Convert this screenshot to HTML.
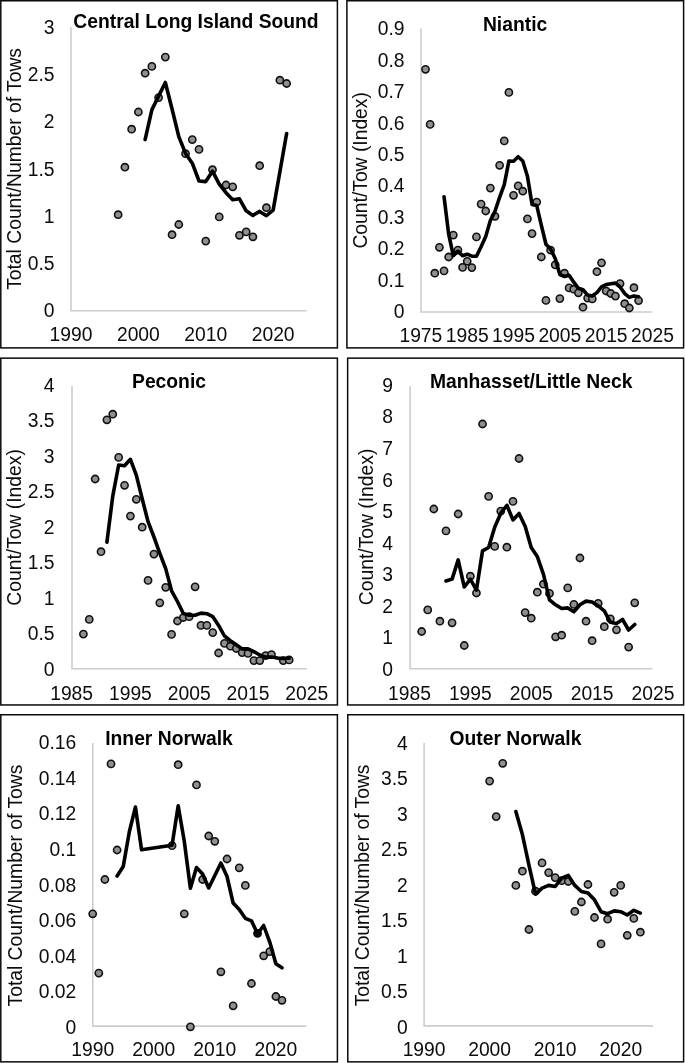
<!DOCTYPE html>
<html lang="en"><head><meta charset="utf-8"><title>Abundance indices by site</title>
<style>
html,body{margin:0;padding:0;background:#fff}
body{width:685px;height:1063px;overflow:hidden}
svg{display:block;will-change:transform}
text{font-family:"Liberation Sans",sans-serif;fill:#0c0c0c}
.t{font-size:19.3px}
.b{font-weight:bold;fill:#000}
.bx{fill:#fff;stroke:#0a0a0a;stroke-width:1.5}
.ax{stroke:#cdcdcd;stroke-width:1.6;fill:none}
.d{fill:#8f8f8f;stroke:#101010;stroke-width:1.6}
.dd{fill:#111;stroke:#000;stroke-width:1.6}
.ln{fill:none;stroke:#000;stroke-width:3.6;stroke-linejoin:round;stroke-linecap:round}
</style></head><body>
<svg width="685" height="1063" viewBox="0 0 685 1063">
<rect x="0" y="0" width="685" height="1063" fill="#fff"/>
<g id="p1">
<rect class="bx" x="0.8" y="0.75" width="336.6" height="347.15"/>
<path class="ax" d="M71 27.1 V310.75 H306.5"/>
<text class="t" x="54.6" y="317.35" text-anchor="end">0</text>
<text class="t" x="54.6" y="270.08" text-anchor="end">0.5</text>
<text class="t" x="54.6" y="222.82" text-anchor="end">1</text>
<text class="t" x="54.6" y="175.55" text-anchor="end">1.5</text>
<text class="t" x="54.6" y="128.28" text-anchor="end">2</text>
<text class="t" x="54.6" y="81.02" text-anchor="end">2.5</text>
<text class="t" x="54.6" y="33.75" text-anchor="end">3</text>
<text class="t" x="70.98" y="340.5" text-anchor="middle">1990</text>
<text class="t" x="138.37" y="340.5" text-anchor="middle">2000</text>
<text class="t" x="205.76" y="340.5" text-anchor="middle">2010</text>
<text class="t" x="273.15" y="340.5" text-anchor="middle">2020</text>
<text class="t" transform="translate(20.9 168.93) rotate(-90)" text-anchor="middle">Total Count/Number of Tows</text>
<text class="t b" x="196" y="28.2" text-anchor="middle">Central Long Island Sound</text>
<circle class="d" cx="118.15" cy="214.7" r="3.6"/>
<circle class="d" cx="124.89" cy="167.2" r="3.6"/>
<circle class="d" cx="131.63" cy="129.2" r="3.6"/>
<circle class="d" cx="138.37" cy="112" r="3.6"/>
<circle class="d" cx="145.11" cy="73.2" r="3.6"/>
<circle class="d" cx="151.85" cy="66.4" r="3.6"/>
<circle class="d" cx="158.59" cy="97.6" r="3.6"/>
<circle class="d" cx="165.33" cy="57.1" r="3.6"/>
<circle class="d" cx="172.06" cy="234.7" r="3.6"/>
<circle class="d" cx="178.8" cy="224.5" r="3.6"/>
<circle class="d" cx="185.54" cy="153.7" r="3.6"/>
<circle class="d" cx="192.28" cy="139.6" r="3.6"/>
<circle class="d" cx="199.02" cy="149.4" r="3.6"/>
<circle class="d" cx="205.76" cy="241.1" r="3.6"/>
<circle class="d" cx="212.5" cy="169.7" r="3.6"/>
<circle class="d" cx="219.24" cy="216.9" r="3.6"/>
<circle class="d" cx="225.98" cy="185" r="3.6"/>
<circle class="d" cx="232.72" cy="186.8" r="3.6"/>
<circle class="d" cx="239.45" cy="235.3" r="3.6"/>
<circle class="d" cx="246.19" cy="231.9" r="3.6"/>
<circle class="d" cx="252.93" cy="236.8" r="3.6"/>
<circle class="d" cx="259.67" cy="165.7" r="3.6"/>
<circle class="d" cx="266.41" cy="207.7" r="3.6"/>
<circle class="d" cx="279.89" cy="80.2" r="3.6"/>
<circle class="d" cx="286.63" cy="83.5" r="3.6"/>
<polyline class="ln" points="145.11,139.6 151.85,109.9 158.59,96.1 165.33,82.5 172.06,109 178.8,136.6 185.54,153.4 192.28,163.2 199.02,181 205.76,181.6 212.5,171.2 219.24,184.1 225.98,192.7 232.72,199.7 239.45,198.8 246.19,210.8 252.93,215.4 259.67,211.4 266.41,215.7 273.15,210.1 279.89,171.8 286.63,133.5"/>
</g>
<g id="p2">
<rect class="bx" x="346.9" y="0.75" width="336.7" height="347.15"/>
<path class="ax" d="M421.05 28.6 V312.05 H652.4"/>
<text class="t" x="404.6" y="318.2" text-anchor="end">0</text>
<text class="t" x="404.6" y="286.76" text-anchor="end">0.1</text>
<text class="t" x="404.6" y="255.32" text-anchor="end">0.2</text>
<text class="t" x="404.6" y="223.88" text-anchor="end">0.3</text>
<text class="t" x="404.6" y="192.44" text-anchor="end">0.4</text>
<text class="t" x="404.6" y="161.01" text-anchor="end">0.5</text>
<text class="t" x="404.6" y="129.57" text-anchor="end">0.6</text>
<text class="t" x="404.6" y="98.13" text-anchor="end">0.7</text>
<text class="t" x="404.6" y="66.69" text-anchor="end">0.8</text>
<text class="t" x="404.6" y="35.25" text-anchor="end">0.9</text>
<text class="t" x="420.88" y="342" text-anchor="middle">1975</text>
<text class="t" x="467.2" y="342" text-anchor="middle">1985</text>
<text class="t" x="513.52" y="342" text-anchor="middle">1995</text>
<text class="t" x="559.84" y="342" text-anchor="middle">2005</text>
<text class="t" x="606.16" y="342" text-anchor="middle">2015</text>
<text class="t" x="652.48" y="342" text-anchor="middle">2025</text>
<text class="t" transform="translate(367.3 170.33) rotate(-90)" text-anchor="middle">Count/Tow (Index)</text>
<text class="t b" x="515.1" y="30.6" text-anchor="middle">Niantic</text>
<circle class="d" cx="425.51" cy="69.3" r="3.6"/>
<circle class="d" cx="430.14" cy="124.4" r="3.6"/>
<circle class="d" cx="434.78" cy="273.2" r="3.6"/>
<circle class="d" cx="439.41" cy="247.3" r="3.6"/>
<circle class="d" cx="444.04" cy="270.9" r="3.6"/>
<circle class="d" cx="448.67" cy="257" r="3.6"/>
<circle class="d" cx="453.3" cy="235.1" r="3.6"/>
<circle class="d" cx="457.94" cy="250.1" r="3.6"/>
<circle class="d" cx="462.57" cy="267.4" r="3.6"/>
<circle class="d" cx="467.2" cy="261.3" r="3.6"/>
<circle class="d" cx="471.83" cy="267.6" r="3.6"/>
<circle class="d" cx="476.46" cy="236.9" r="3.6"/>
<circle class="d" cx="481.1" cy="204.1" r="3.6"/>
<circle class="d" cx="485.73" cy="211" r="3.6"/>
<circle class="d" cx="490.36" cy="188.1" r="3.6"/>
<circle class="d" cx="494.99" cy="216.3" r="3.6"/>
<circle class="d" cx="499.62" cy="165.3" r="3.6"/>
<circle class="d" cx="504.26" cy="140.9" r="3.6"/>
<circle class="d" cx="508.89" cy="92.4" r="3.6"/>
<circle class="d" cx="513.52" cy="195.3" r="3.6"/>
<circle class="d" cx="518.15" cy="185.9" r="3.6"/>
<circle class="d" cx="522.78" cy="191.2" r="3.6"/>
<circle class="d" cx="527.42" cy="218.9" r="3.6"/>
<circle class="d" cx="532.05" cy="233.6" r="3.6"/>
<circle class="d" cx="536.68" cy="202.1" r="3.6"/>
<circle class="d" cx="541.31" cy="257" r="3.6"/>
<circle class="d" cx="545.94" cy="300.4" r="3.6"/>
<circle class="d" cx="550.58" cy="250.1" r="3.6"/>
<circle class="d" cx="555.21" cy="264.8" r="3.6"/>
<circle class="d" cx="559.84" cy="298.6" r="3.6"/>
<circle class="d" cx="564.47" cy="273.2" r="3.6"/>
<circle class="d" cx="569.1" cy="287.9" r="3.6"/>
<circle class="d" cx="573.74" cy="289.2" r="3.6"/>
<circle class="d" cx="578.37" cy="292.8" r="3.6"/>
<circle class="d" cx="583" cy="307.2" r="3.6"/>
<circle class="d" cx="587.63" cy="298.1" r="3.6"/>
<circle class="d" cx="592.26" cy="298.9" r="3.6"/>
<circle class="d" cx="596.9" cy="271.7" r="3.6"/>
<circle class="d" cx="601.53" cy="262.8" r="3.6"/>
<circle class="d" cx="606.16" cy="291" r="3.6"/>
<circle class="d" cx="610.79" cy="293.5" r="3.6"/>
<circle class="d" cx="615.42" cy="296.1" r="3.6"/>
<circle class="d" cx="620.06" cy="283.6" r="3.6"/>
<circle class="d" cx="624.69" cy="303.7" r="3.6"/>
<circle class="d" cx="629.32" cy="308" r="3.6"/>
<circle class="d" cx="633.95" cy="287.7" r="3.6"/>
<circle class="d" cx="638.58" cy="300.6" r="3.6"/>
<polyline class="ln" points="444.04,196.8 448.67,234.1 453.3,255.7 457.94,251.1 462.57,255.7 467.2,254.2 471.83,256.2 476.46,256.2 481.1,246.8 485.73,236.6 490.36,220.6 494.99,211.2 499.62,197.3 504.26,184.6 508.89,161 513.52,161.2 518.15,156.7 522.78,161 527.42,176.2 532.05,204.4 536.68,205.4 541.31,225.2 545.94,244.2 550.58,249 555.21,258.5 559.84,274.6 564.47,276.5 569.1,275.2 573.74,282.2 578.37,288.3 583,289.8 587.63,295.1 592.26,296 596.9,292.6 601.53,286.9 606.16,284.5 610.79,283.7 615.42,283.1 620.06,286.9 624.69,293.6 629.32,297.4 633.95,295.9 638.58,296.8"/>
</g>
<g id="p3">
<rect class="bx" x="0.8" y="358.15" width="336.6" height="346.8"/>
<path class="ax" d="M72 386 V668.8 H306.8"/>
<text class="t" x="54.6" y="675.65" text-anchor="end">0</text>
<text class="t" x="54.6" y="640.19" text-anchor="end">0.5</text>
<text class="t" x="54.6" y="604.73" text-anchor="end">1</text>
<text class="t" x="54.6" y="569.26" text-anchor="end">1.5</text>
<text class="t" x="54.6" y="533.8" text-anchor="end">2</text>
<text class="t" x="54.6" y="498.34" text-anchor="end">2.5</text>
<text class="t" x="54.6" y="462.88" text-anchor="end">3</text>
<text class="t" x="54.6" y="427.41" text-anchor="end">3.5</text>
<text class="t" x="54.6" y="391.95" text-anchor="end">4</text>
<text class="t" x="71.63" y="699.5" text-anchor="middle">1985</text>
<text class="t" x="130.42" y="699.5" text-anchor="middle">1995</text>
<text class="t" x="189.21" y="699.5" text-anchor="middle">2005</text>
<text class="t" x="248" y="699.5" text-anchor="middle">2015</text>
<text class="t" x="306.79" y="699.5" text-anchor="middle">2025</text>
<text class="t" transform="translate(20.9 527.4) rotate(-90)" text-anchor="middle">Count/Tow (Index)</text>
<text class="t b" x="169" y="387.5" text-anchor="middle">Peconic</text>
<circle class="d" cx="83.39" cy="634.1" r="3.6"/>
<circle class="d" cx="89.27" cy="619.4" r="3.6"/>
<circle class="d" cx="95.15" cy="479" r="3.6"/>
<circle class="d" cx="101.02" cy="551.7" r="3.6"/>
<circle class="d" cx="106.9" cy="419.8" r="3.6"/>
<circle class="d" cx="112.78" cy="414.2" r="3.6"/>
<circle class="d" cx="118.66" cy="457.4" r="3.6"/>
<circle class="d" cx="124.54" cy="485.3" r="3.6"/>
<circle class="d" cx="130.42" cy="516.1" r="3.6"/>
<circle class="d" cx="136.3" cy="499.3" r="3.6"/>
<circle class="d" cx="142.18" cy="527.2" r="3.6"/>
<circle class="d" cx="148.06" cy="580.4" r="3.6"/>
<circle class="d" cx="153.94" cy="554.1" r="3.6"/>
<circle class="d" cx="159.81" cy="602.8" r="3.6"/>
<circle class="d" cx="165.69" cy="587.3" r="3.6"/>
<circle class="d" cx="171.57" cy="634.4" r="3.6"/>
<circle class="d" cx="177.45" cy="621" r="3.6"/>
<circle class="d" cx="183.33" cy="617.5" r="3.6"/>
<circle class="d" cx="189.21" cy="616.7" r="3.6"/>
<circle class="d" cx="195.09" cy="586.8" r="3.6"/>
<circle class="d" cx="200.97" cy="625.4" r="3.6"/>
<circle class="d" cx="206.85" cy="625.4" r="3.6"/>
<circle class="d" cx="212.73" cy="632.6" r="3.6"/>
<circle class="d" cx="218.6" cy="653" r="3.6"/>
<circle class="d" cx="224.48" cy="643.4" r="3.6"/>
<circle class="d" cx="230.36" cy="646.2" r="3.6"/>
<circle class="d" cx="236.24" cy="648.5" r="3.6"/>
<circle class="d" cx="242.12" cy="652.6" r="3.6"/>
<circle class="d" cx="248" cy="653.4" r="3.6"/>
<circle class="d" cx="253.88" cy="660.6" r="3.6"/>
<circle class="d" cx="259.76" cy="660.6" r="3.6"/>
<circle class="d" cx="265.64" cy="655.6" r="3.6"/>
<circle class="d" cx="271.52" cy="654.6" r="3.6"/>
<circle class="d" cx="283.27" cy="660.6" r="3.6"/>
<circle class="d" cx="289.15" cy="659.9" r="3.6"/>
<polyline class="ln" points="106.9,542.2 112.78,496.1 118.66,465 124.54,465.8 130.42,459.3 136.3,475.1 142.18,498.8 148.06,521.7 153.94,537 159.81,553.3 165.69,568.6 171.57,590.8 177.45,601.5 183.33,613.5 189.21,615.2 195.09,615.3 200.97,613.1 206.85,613.7 212.73,616.6 218.6,625.4 224.48,636 230.36,640.7 236.24,644.8 242.12,648.9 248,648.9 253.88,651.6 259.76,655 265.64,657.1 271.52,657.1 277.39,658.1 283.27,658.5 289.15,658.1"/>
</g>
<g id="p4">
<rect class="bx" x="347.65" y="358.15" width="335.95" height="346.8"/>
<path class="ax" d="M410.1 386 V668.8 H652.4"/>
<text class="t" x="393.1" y="675.65" text-anchor="end">0</text>
<text class="t" x="393.1" y="644.13" text-anchor="end">1</text>
<text class="t" x="393.1" y="612.61" text-anchor="end">2</text>
<text class="t" x="393.1" y="581.08" text-anchor="end">3</text>
<text class="t" x="393.1" y="549.56" text-anchor="end">4</text>
<text class="t" x="393.1" y="518.04" text-anchor="end">5</text>
<text class="t" x="393.1" y="486.52" text-anchor="end">6</text>
<text class="t" x="393.1" y="454.99" text-anchor="end">7</text>
<text class="t" x="393.1" y="423.47" text-anchor="end">8</text>
<text class="t" x="393.1" y="391.95" text-anchor="end">9</text>
<text class="t" x="409.46" y="699.5" text-anchor="middle">1985</text>
<text class="t" x="470.35" y="699.5" text-anchor="middle">1995</text>
<text class="t" x="531.23" y="699.5" text-anchor="middle">2005</text>
<text class="t" x="592.12" y="699.5" text-anchor="middle">2015</text>
<text class="t" x="653" y="699.5" text-anchor="middle">2025</text>
<text class="t" transform="translate(372.7 526.9) rotate(-90)" text-anchor="middle">Count/Tow (Index)</text>
<text class="t b" x="531.2" y="387.7" text-anchor="middle">Manhasset/Little Neck</text>
<circle class="d" cx="421.64" cy="631.5" r="3.6"/>
<circle class="d" cx="427.73" cy="609.9" r="3.6"/>
<circle class="d" cx="433.81" cy="509" r="3.6"/>
<circle class="d" cx="439.9" cy="621.2" r="3.6"/>
<circle class="d" cx="445.99" cy="530.9" r="3.6"/>
<circle class="d" cx="452.08" cy="622.8" r="3.6"/>
<circle class="d" cx="458.17" cy="514" r="3.6"/>
<circle class="d" cx="464.26" cy="645.5" r="3.6"/>
<circle class="d" cx="470.35" cy="576.2" r="3.6"/>
<circle class="d" cx="476.43" cy="593" r="3.6"/>
<circle class="d" cx="482.52" cy="424" r="3.6"/>
<circle class="d" cx="488.61" cy="496.4" r="3.6"/>
<circle class="d" cx="494.7" cy="546.4" r="3.6"/>
<circle class="d" cx="500.79" cy="511.1" r="3.6"/>
<circle class="d" cx="506.88" cy="547.2" r="3.6"/>
<circle class="d" cx="512.97" cy="501.4" r="3.6"/>
<circle class="d" cx="519.05" cy="458.5" r="3.6"/>
<circle class="d" cx="525.14" cy="612.6" r="3.6"/>
<circle class="d" cx="531.23" cy="618.2" r="3.6"/>
<circle class="d" cx="537.32" cy="592.2" r="3.6"/>
<circle class="d" cx="543.41" cy="584.2" r="3.6"/>
<circle class="d" cx="549.5" cy="593.4" r="3.6"/>
<circle class="d" cx="555.59" cy="636.8" r="3.6"/>
<circle class="d" cx="561.67" cy="635.2" r="3.6"/>
<circle class="d" cx="567.76" cy="587.9" r="3.6"/>
<circle class="d" cx="573.85" cy="604.4" r="3.6"/>
<circle class="d" cx="579.94" cy="558" r="3.6"/>
<circle class="d" cx="586.03" cy="621.2" r="3.6"/>
<circle class="d" cx="592.12" cy="640.7" r="3.6"/>
<circle class="d" cx="598.21" cy="603.3" r="3.6"/>
<circle class="d" cx="604.3" cy="626.7" r="3.6"/>
<circle class="d" cx="610.38" cy="618.8" r="3.6"/>
<circle class="d" cx="616.47" cy="629.8" r="3.6"/>
<circle class="d" cx="628.65" cy="647.1" r="3.6"/>
<circle class="d" cx="634.74" cy="602.8" r="3.6"/>
<polyline class="ln" points="445.99,580.9 452.08,579.1 458.17,559.9 464.26,587 470.35,579.1 476.43,590.2 482.52,550.9 488.61,547.5 494.7,527.2 500.79,513.2 506.88,505.3 512.97,519.9 519.05,513.5 525.14,526.2 531.23,547.5 537.32,556.6 543.41,574.2 549.5,599.8 555.59,604.8 561.67,608.5 567.76,607.9 573.85,611.8 579.94,604.8 586.03,601.1 592.12,602 598.21,605.9 604.3,610.9 610.38,622.3 616.47,623.4 622.56,619.5 628.65,630 634.74,624.5"/>
</g>
<g id="p5">
<rect class="bx" x="0.8" y="714.75" width="336.6" height="347.1"/>
<path class="ax" d="M92.75 743 V1026.1 H306.3"/>
<text class="t" x="76.3" y="1033.55" text-anchor="end">0</text>
<text class="t" x="76.3" y="998.04" text-anchor="end">0.02</text>
<text class="t" x="76.3" y="962.52" text-anchor="end">0.04</text>
<text class="t" x="76.3" y="927.01" text-anchor="end">0.06</text>
<text class="t" x="76.3" y="891.5" text-anchor="end">0.08</text>
<text class="t" x="76.3" y="855.99" text-anchor="end">0.1</text>
<text class="t" x="76.3" y="820.48" text-anchor="end">0.12</text>
<text class="t" x="76.3" y="784.96" text-anchor="end">0.14</text>
<text class="t" x="76.3" y="749.45" text-anchor="end">0.16</text>
<text class="t" x="92.69" y="1056.2" text-anchor="middle">1990</text>
<text class="t" x="153.75" y="1056.2" text-anchor="middle">2000</text>
<text class="t" x="214.81" y="1056.2" text-anchor="middle">2010</text>
<text class="t" x="275.87" y="1056.2" text-anchor="middle">2020</text>
<text class="t" transform="translate(21.6 885.55) rotate(-90)" text-anchor="middle">Total Count/Number of Tows</text>
<text class="t b" x="169" y="745" text-anchor="middle">Inner Norwalk</text>
<circle class="d" cx="92.69" cy="913.8" r="3.6"/>
<circle class="d" cx="98.8" cy="973.1" r="3.6"/>
<circle class="d" cx="104.9" cy="879.5" r="3.6"/>
<circle class="d" cx="111.01" cy="763.9" r="3.6"/>
<circle class="d" cx="117.11" cy="850" r="3.6"/>
<circle class="d" cx="172.07" cy="845.7" r="3.6"/>
<circle class="d" cx="178.17" cy="764.7" r="3.6"/>
<circle class="d" cx="184.28" cy="913.8" r="3.6"/>
<circle class="d" cx="190.39" cy="1026.8" r="3.6"/>
<circle class="d" cx="196.49" cy="784.9" r="3.6"/>
<circle class="d" cx="202.6" cy="879.5" r="3.6"/>
<circle class="d" cx="208.7" cy="836" r="3.6"/>
<circle class="d" cx="214.81" cy="841.3" r="3.6"/>
<circle class="d" cx="220.92" cy="971.8" r="3.6"/>
<circle class="d" cx="227.02" cy="859" r="3.6"/>
<circle class="d" cx="233.13" cy="1005.8" r="3.6"/>
<circle class="d" cx="239.23" cy="867.8" r="3.6"/>
<circle class="d" cx="245.34" cy="885.4" r="3.6"/>
<circle class="d" cx="251.45" cy="983.5" r="3.6"/>
<circle class="dd" cx="257.55" cy="933.4" r="3.6"/>
<circle class="d" cx="263.66" cy="955.8" r="3.6"/>
<circle class="d" cx="269.76" cy="951.6" r="3.6"/>
<circle class="d" cx="275.87" cy="996.5" r="3.6"/>
<circle class="d" cx="281.98" cy="1000.3" r="3.6"/>
<polyline class="ln" points="117.11,876 123.22,866.6 129.33,831.8 135.43,807.1 141.54,849.7 172.07,845.2 178.17,805.8 184.28,841.2 190.39,888.2 196.49,867.6 202.6,874 208.7,888 214.81,875.5 220.92,863 227.02,876.5 233.13,903 239.23,909.4 245.34,918.3 251.45,920.8 257.55,933.8 263.66,925.5 269.76,942.1 275.87,963.8 281.98,967.8"/>
</g>
<g id="p6">
<rect class="bx" x="347.8" y="714.75" width="335.8" height="347.1"/>
<path class="ax" d="M424.1 743 V1025.9 H653"/>
<text class="t" x="407.8" y="1033.55" text-anchor="end">0</text>
<text class="t" x="407.8" y="998.07" text-anchor="end">0.5</text>
<text class="t" x="407.8" y="962.59" text-anchor="end">1</text>
<text class="t" x="407.8" y="927.11" text-anchor="end">1.5</text>
<text class="t" x="407.8" y="891.62" text-anchor="end">2</text>
<text class="t" x="407.8" y="856.14" text-anchor="end">2.5</text>
<text class="t" x="407.8" y="820.66" text-anchor="end">3</text>
<text class="t" x="407.8" y="785.18" text-anchor="end">3.5</text>
<text class="t" x="407.8" y="749.7" text-anchor="end">4</text>
<text class="t" x="424.09" y="1056.2" text-anchor="middle">1990</text>
<text class="t" x="489.63" y="1056.2" text-anchor="middle">2000</text>
<text class="t" x="555.17" y="1056.2" text-anchor="middle">2010</text>
<text class="t" x="620.71" y="1056.2" text-anchor="middle">2020</text>
<text class="t" transform="translate(368.5 885.45) rotate(-90)" text-anchor="middle">Total Count/Number of Tows</text>
<text class="t b" x="515.5" y="745" text-anchor="middle">Outer Norwalk</text>
<circle class="d" cx="489.63" cy="781.1" r="3.6"/>
<circle class="d" cx="496.18" cy="816.6" r="3.6"/>
<circle class="d" cx="502.74" cy="763.3" r="3.6"/>
<circle class="d" cx="515.85" cy="885.4" r="3.6"/>
<circle class="d" cx="522.4" cy="871.2" r="3.6"/>
<circle class="d" cx="528.95" cy="929.5" r="3.6"/>
<circle class="d" cx="535.51" cy="891.2" r="3.6"/>
<circle class="d" cx="542.06" cy="862.9" r="3.6"/>
<circle class="d" cx="548.62" cy="872.6" r="3.6"/>
<circle class="d" cx="555.17" cy="877.6" r="3.6"/>
<circle class="d" cx="561.72" cy="880.7" r="3.6"/>
<circle class="d" cx="568.28" cy="881.5" r="3.6"/>
<circle class="d" cx="574.83" cy="911.4" r="3.6"/>
<circle class="d" cx="581.39" cy="902" r="3.6"/>
<circle class="d" cx="587.94" cy="884.5" r="3.6"/>
<circle class="d" cx="594.49" cy="917.5" r="3.6"/>
<circle class="d" cx="601.05" cy="943.9" r="3.6"/>
<circle class="d" cx="607.6" cy="919.2" r="3.6"/>
<circle class="d" cx="614.16" cy="892.3" r="3.6"/>
<circle class="d" cx="620.71" cy="885.4" r="3.6"/>
<circle class="d" cx="627.26" cy="935.3" r="3.6"/>
<circle class="d" cx="633.82" cy="918.4" r="3.6"/>
<circle class="d" cx="640.37" cy="932.2" r="3.6"/>
<polyline class="ln" points="515.85,811.6 522.4,834.6 528.95,865.1 535.51,894.2 542.06,888.1 548.62,885.4 555.17,886.5 561.72,878.2 568.28,875.4 574.83,885.4 581.39,891.5 587.94,892.9 594.49,899.8 601.05,911.7 607.6,913.7 614.16,910.9 620.71,911.7 627.26,915 633.82,910.3 640.37,913.1"/>
</g>
</svg></body></html>
